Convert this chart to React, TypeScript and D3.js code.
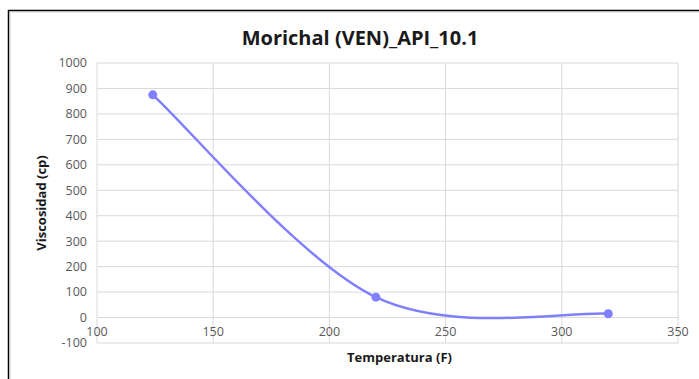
import React from 'react';
import * as d3 from 'd3';

// data
const temperatures = [124, 220, 320];
const viscosities = [875, 80, 15];
const xTicks = [100, 150, 200, 250, 300, 350];
const yTicks = [-100, 0, 100, 200, 300, 400, 500, 600, 700, 800, 900, 1000];

const width = 699;
const height = 379;
const margin = { top: 63, right: 21, bottom: 36, left: 97 };

// Excel-style smoothed line: cubic beziers with control points at 1/6 of the
// neighbour difference, end points duplicated
function smoothPath(pts: [number, number][]) {
  const p = d3.path();
  p.moveTo(pts[0][0], pts[0][1]);
  for (let i = 0; i < pts.length - 1; i++) {
    const p0 = pts[Math.max(i - 1, 0)];
    const p1 = pts[i];
    const p2 = pts[i + 1];
    const p3 = pts[Math.min(i + 2, pts.length - 1)];
    p.bezierCurveTo(
      p1[0] + (p2[0] - p0[0]) / 6, p1[1] + (p2[1] - p0[1]) / 6,
      p2[0] - (p3[0] - p1[0]) / 6, p2[1] - (p3[1] - p1[1]) / 6,
      p2[0], p2[1]
    );
  }
  return p.toString();
}

const App: React.FC = () => {
  const innerWidth = width - margin.left - margin.right;

  const xScale = d3.scaleLinear().domain([100, 350]).range([0, innerWidth]);
  const yScale = d3.scaleLinear().domain([-100, 1000]).range([280, 0]);

  const pts: [number, number][] = temperatures.map((t, i) => [xScale(t), yScale(viscosities[i])]);

  const font = '"Open Sans", "Liberation Sans", sans-serif';

  return (
    <svg width={width} height={height} style={{ position: 'absolute', left: 0, top: 0, background: '#fff' }}>
      {/* outer frame */}
      <line x1={8.5} y1={10} x2={8.5} y2={height} stroke="#000" strokeWidth={1.5} />
      <line x1={8} y1={10.5} x2={width} y2={10.5} stroke="#000" strokeWidth={1.5} />
      <line x1={10.5} y1={12} x2={10.5} y2={height} stroke="#e6e6e6" strokeWidth={1} />
      <line x1={10} y1={12.5} x2={width} y2={12.5} stroke="#e6e6e6" strokeWidth={1} />

      <text x={360} y={45} textAnchor="middle" fontFamily={font} fontWeight="bold" fontSize={20} fill="#1a1a1a">
        Morichal (VEN)_API_10.1
      </text>

      <g transform={`translate(${margin.left},${margin.top})`}>
        {/* horizontal gridlines */}
        {yTicks.map(t => (
          <line key={`h${t}`} x1={0} x2={innerWidth} y1={yScale(t)} y2={yScale(t)} stroke="#d9d9d9" strokeWidth={1} />
        ))}
        {/* vertical gridlines */}
        {xTicks.map(t => (
          <line key={`v${t}`} x1={xScale(t)} x2={xScale(t)} y1={yScale(1000)} y2={yScale(-100)} stroke="#d9d9d9" strokeWidth={1} />
        ))}

        {/* y tick labels */}
        {yTicks.map(t => (
          <text key={`yl${t}`} x={-10} y={yScale(t)} dy="0.35em" textAnchor="end" fontFamily={font} fontSize={12.5} fill="#595959">
            {t}
          </text>
        ))}
        {/* x tick labels sit below the zero line */}
        {xTicks.map(t => (
          <text key={`xl${t}`} x={xScale(t)} y={yScale(0) + 18} textAnchor="middle" fontFamily={font} fontSize={12.5} fill="#595959">
            {t}
          </text>
        ))}

        <path d={smoothPath(pts)} fill="none" stroke="#8080ff" strokeWidth={2.5} />
        {pts.map((p, i) => (
          <circle key={i} cx={p[0]} cy={p[1]} r={4.5} fill="#8080ff" />
        ))}

        <text x={innerWidth / 2 + 12} y={299} textAnchor="middle" fontFamily={font} fontWeight="bold" fontSize={13} fill="#1a1a1a">
          Temperatura (F)
        </text>
        <text transform={`translate(-51,${yScale(450)}) rotate(-90)`} textAnchor="middle" fontFamily={font} fontWeight="bold" fontSize={13} fill="#1a1a1a">
          Viscosidad (cp)
        </text>
      </g>
    </svg>
  );
};

export default App;
